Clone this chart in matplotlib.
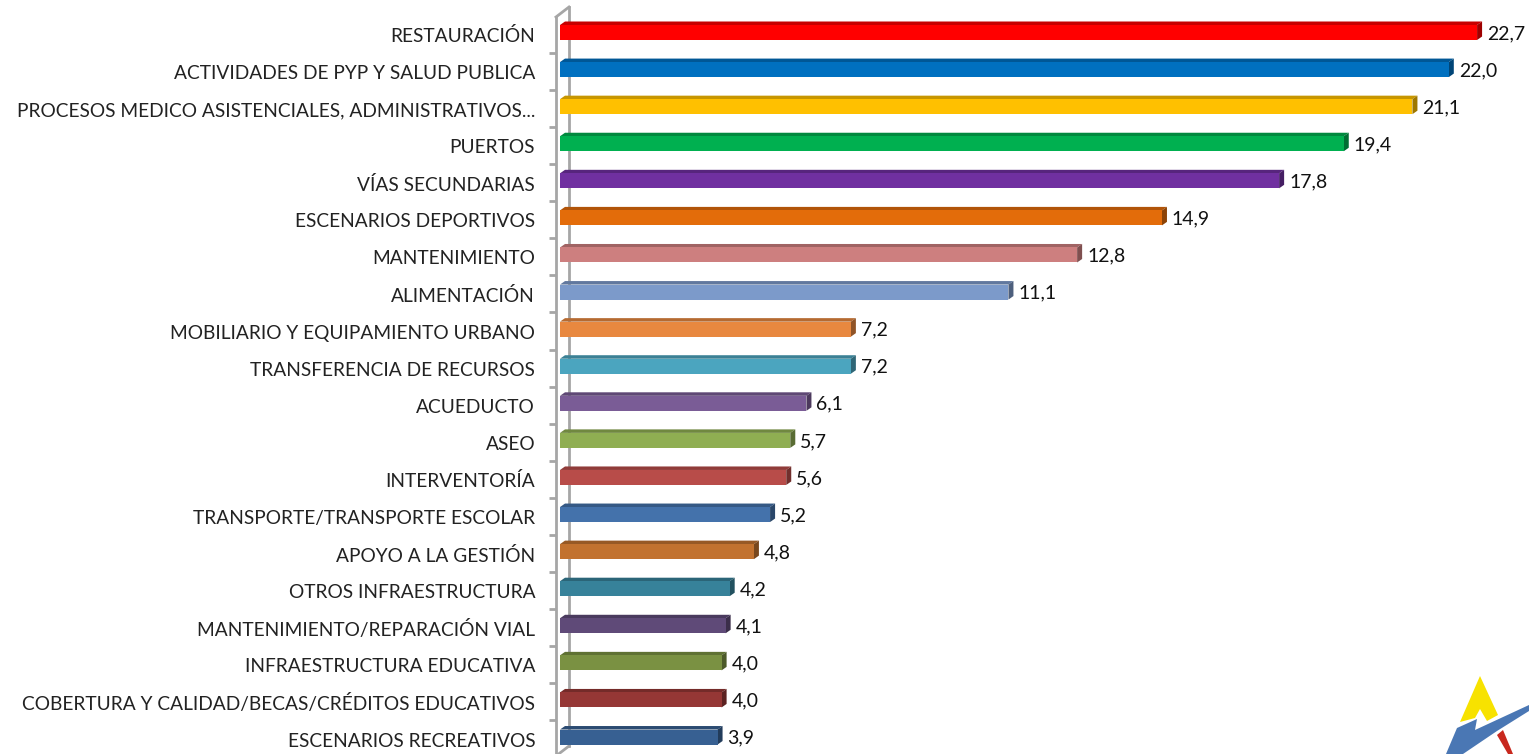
import matplotlib
matplotlib.use('Agg')
import matplotlib.pyplot as plt
from matplotlib.patches import Polygon
from matplotlib.transforms import ScaledTranslation, Affine2D

categorias = ["RESTAURACIÓN", "ACTIVIDADES DE PYP Y SALUD PUBLICA",
              "PROCESOS MEDICO ASISTENCIALES, ADMINISTRATIVOS...", "PUERTOS",
              "VÍAS SECUNDARIAS", "ESCENARIOS DEPORTIVOS", "MANTENIMIENTO",
              "ALIMENTACIÓN", "MOBILIARIO Y EQUIPAMIENTO URBANO",
              "TRANSFERENCIA DE RECURSOS", "ACUEDUCTO", "ASEO", "INTERVENTORÍA",
              "TRANSPORTE/TRANSPORTE ESCOLAR", "APOYO A LA GESTIÓN",
              "OTROS INFRAESTRUCTURA", "MANTENIMIENTO/REPARACIÓN VIAL",
              "INFRAESTRUCTURA EDUCATIVA",
              "COBERTURA Y CALIDAD/BECAS/CRÉDITOS EDUCATIVOS",
              "ESCENARIOS RECREATIVOS"]
valores = [22.7, 22.0, 21.1, 19.4, 17.8, 14.9, 12.8, 11.1, 7.2, 7.2,
           6.1, 5.7, 5.6, 5.2, 4.8, 4.2, 4.1, 4.0, 4.0, 3.9]
colores = ["#ff0000", "#0070c0", "#ffc000", "#00b050", "#7030a0", "#e36c0a",
           "#cd7f7f", "#7c9aca", "#e8883f", "#4ba5bf", "#7a5c96", "#8fae52",
           "#b84c49", "#4472ab", "#c2722f", "#37829a", "#5f4a78", "#7a9142",
           "#953735", "#376092"]

PX_X = 40.4   # pixeles por unidad
PX_Y = 37.08  # pixeles por categoria
W, H = 1529, 754
GRIS = "#a6a6a6"

plt.rcParams['font.family'] = ['Lato', 'DejaVu Sans']


def oscuro(color, f):
    r, g, b = matplotlib.colors.to_rgb(color)
    return (r * f, g * f, b * f)


fig = plt.figure(figsize=(W / 100, H / 100), dpi=100)
fig.patch.set_facecolor("white")
ax = fig.add_axes([556 / W, 0, 1 - 556 / W, (H - 17) / H])
for lado in ["top", "right", "bottom"]:
    ax.spines[lado].set_visible(False)
ax.spines["left"].set_color(GRIS)
ax.spines["left"].set_linewidth(2)

pos = list(range(len(valores)))
dx = 5 / PX_X
dy = 3.5 / PX_Y
alto = 15 / PX_Y

# pared del fondo
pared = 13 / PX_X - 4 / PX_X
ax.plot([pared, pared], [(7 - 32.5) / PX_Y, (746 - 32.5) / PX_Y], color=GRIS, lw=2, clip_on=False, zorder=1)
ax.plot([-4 / PX_X, pared], [(17 - 32.5) / PX_Y, (7 - 32.5) / PX_Y], color=GRIS, lw=2, clip_on=False, zorder=1)
ax.plot([-4 / PX_X, pared], [(756 - 32.5) / PX_Y, (746 - 32.5) / PX_Y], color=GRIS, lw=2, clip_on=False, zorder=1)

ax.barh(pos, valores, height=alto, color=colores, edgecolor="none", zorder=3)

for i, v in enumerate(valores):
    c = colores[i]
    arriba = i - alto / 2
    abajo = i + alto / 2
    # cara superior y lateral
    ax.add_patch(Polygon([(0, arriba), (dx, arriba - dy), (v + dx, arriba - dy), (v, arriba)],
                         closed=True, facecolor=oscuro(c, 0.78), edgecolor="none", zorder=2, clip_on=False))
    ax.add_patch(Polygon([(v, arriba), (v + dx, arriba - dy), (v + dx, abajo - dy), (v, abajo)],
                         closed=True, facecolor=oscuro(c, 0.62), edgecolor="none", zorder=2, clip_on=False))
    ax.annotate(f"{v:.1f}".replace(".", ","), (v, i), xytext=(10, -1), textcoords="offset pixels",
                ha="left", va="center", fontsize=14, color="#111111", zorder=4)

ax.set_yticks(pos)
ax.set_yticklabels(categorias, fontsize=13.8, color="#222222")
ax.tick_params(axis="y", which="major", length=0, pad=15)
ax.set_yticks([k - 0.45 for k in range(1, len(valores) + 1)], minor=True)
ax.tick_params(axis="y", which="minor", length=5, width=2, color=GRIS)
ax.set_xticks([])

# set_yticks puede ampliar los limites, por eso van aqui
ax.set_xlim(-4 / PX_X, (W - 560) / PX_X)
ax.set_ylim((H - 32.5) / PX_Y, (17 - 32.5) / PX_Y)

desplaza = ScaledTranslation(0, -2.5 / 100, fig.dpi_scale_trans)
for lab in ax.get_yticklabels():
    lab.set_transform(lab.get_transform() + desplaza)

# logo de la esquina
px = Affine2D().scale(1, -1).translate(0, H)
amarillo = [(1480, 676), (1498, 715), (1487, 721), (1480, 709), (1475, 718), (1460, 722)]
azul = [(1529, 705), (1475, 730), (1477, 719), (1457, 728), (1446, 754), (1463, 754), (1497, 731), (1529, 711)]
rojo = [(1497, 735), (1503, 730), (1513, 754), (1508, 754)]
for puntos, color in [(amarillo, "#f7e200"), (azul, "#4a77b4"), (rojo, "#c8281e")]:
    fig.add_artist(Polygon(puntos, closed=True, facecolor=color, edgecolor="none", transform=px))

fig.savefig("out.png", dpi=100)
